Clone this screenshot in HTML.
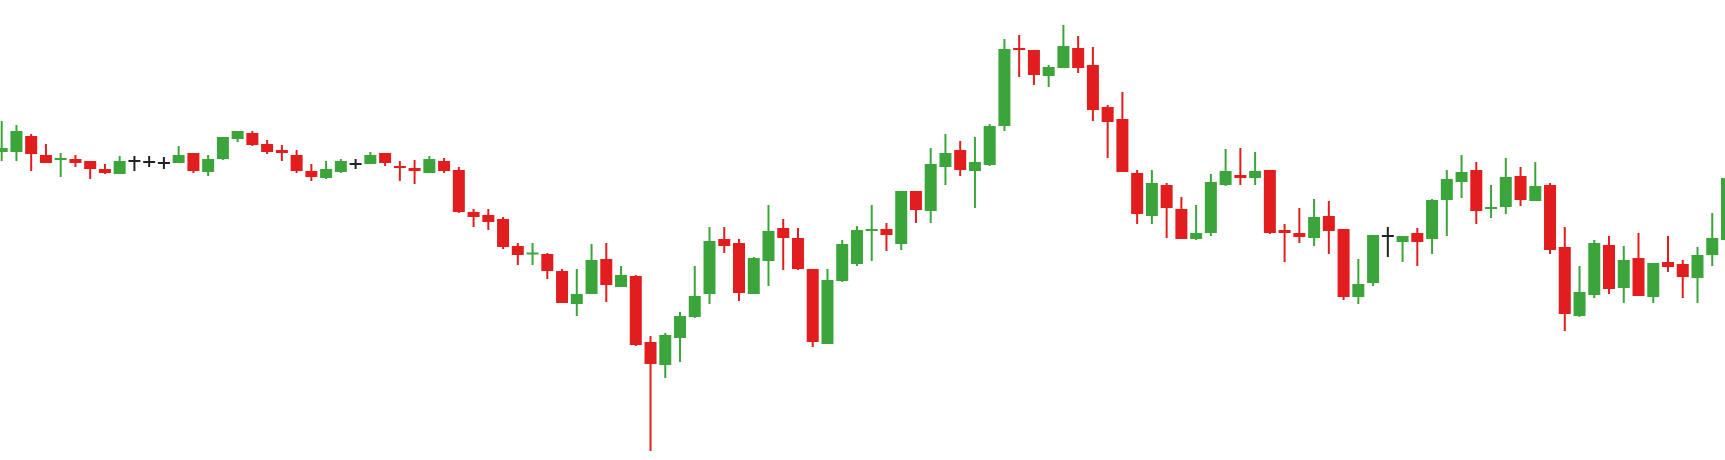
<!DOCTYPE html>
<html><head><meta charset="utf-8"><style>
html,body{margin:0;padding:0;background:#fff;width:1725px;height:460px;overflow:hidden}
svg{display:block}
</style></head><body>
<svg id="chart" width="1725" height="460" viewBox="0 0 1725 460" xmlns="http://www.w3.org/2000/svg"></svg>
<script>
const opens  =[308,308,324,305,300,301,299,291,286,299,298,297,297,307,288,301,321,327,316,310,305,289,282,288,296,296,307,294,292,287,299,290,248,245,241,214,206,206,189,156,166,201,173,184,118,95,122,143,166,221,217,166,199,232,222,191,116,179,196,229,231,216,269,249,293,310,289,295,334,412,410,384,392,412,395,353,341,287,244,275,251,221,227,275,285,282,290,230,227,222,244,231,163,177,224,218,227,221,260,278,290,251,253,284,259,275,213,144,165,215,172,202,163,198,196,182,205,220];
const highs  =[339,335,326,316,307,305,299,296,304,304,304,303,314,307,305,323,329,329,320,315,310,296,299,301,301,308,307,299,300,304,302,293,251,251,243,217,217,207,191,191,216,217,194,185,124,127,148,194,233,233,221,203,255,241,232,191,191,220,234,255,237,269,269,312,326,319,323,336,421,425,410,395,435,424,413,355,368,290,290,277,263,255,286,311,312,308,290,236,252,261,259,231,201,225,233,224,232,261,290,305,298,275,302,293,298,277,233,194,220,224,214,227,197,224,200,213,247,283];
const lows   =[299,299,289,297,283,293,281,286,286,289,293,291,297,287,284,300,318,314,306,299,287,279,281,287,291,296,294,279,276,287,287,247,233,230,211,195,195,181,157,144,166,158,173,114,9,82,98,142,156,207,159,166,174,190,190,113,116,178,194,199,209,210,237,237,275,284,252,294,329,383,375,373,392,387,339,302,288,236,236,222,221,220,224,274,275,275,226,198,217,214,206,160,156,174,203,198,194,206,224,262,236,242,246,254,259,206,129,143,162,166,157,164,157,188,162,157,194,220];
const closes =[312,329,306,297,302,297,291,287,299,299,298,297,305,289,301,323,329,315,308,307,289,283,291,299,296,305,297,292,289,301,289,248,243,238,213,205,207,189,157,166,200,175,185,115,96,125,144,164,219,214,167,202,229,222,191,118,180,216,230,231,225,269,250,296,307,290,298,334,411,410,385,393,414,392,350,338,288,246,277,252,221,227,278,289,282,289,227,227,223,243,229,163,176,225,224,224,218,260,281,288,249,253,283,260,274,210,146,168,217,171,200,164,197,193,183,205,222,282];

const X0=1.7, STEP=14.746, BODY=12;
function xScale(i){return X0+i*STEP;}
function yScale(v){return 460-v;}
const svg=document.getElementById('chart');
const NS='http://www.w3.org/2000/svg';
for(let i=0;i<opens.length;i++){
  const o=opens[i],h=highs[i],l=lows[i],c=closes[i];
  const col=c>o?'#3ba53b':(c<o?'#e11d1d':'#222');
  const g=document.createElementNS(NS,'g');
  
  
  const w=document.createElementNS(NS,'line');
  
  
  w.setAttribute('x1',xScale(i));w.setAttribute('x2',xScale(i));
  w.setAttribute('y1',yScale(h));w.setAttribute('y2',yScale(l));
  w.setAttribute('stroke',col);w.setAttribute('stroke-width','2');
  g.appendChild(w);
  const r=document.createElementNS(NS,'rect');
  
  
  const top=yScale(Math.max(o,c)), bot=yScale(Math.min(o,c));
  const hh=Math.max(bot-top,2);
  r.setAttribute('x',xScale(i)-BODY/2);r.setAttribute('y',hh===2&&bot-top<2?(top+bot)/2-1:top);
  r.setAttribute('width',BODY);r.setAttribute('height',hh);
  r.setAttribute('fill',col);
  g.appendChild(r);
  svg.appendChild(g);
}
</script>
</body></html>
